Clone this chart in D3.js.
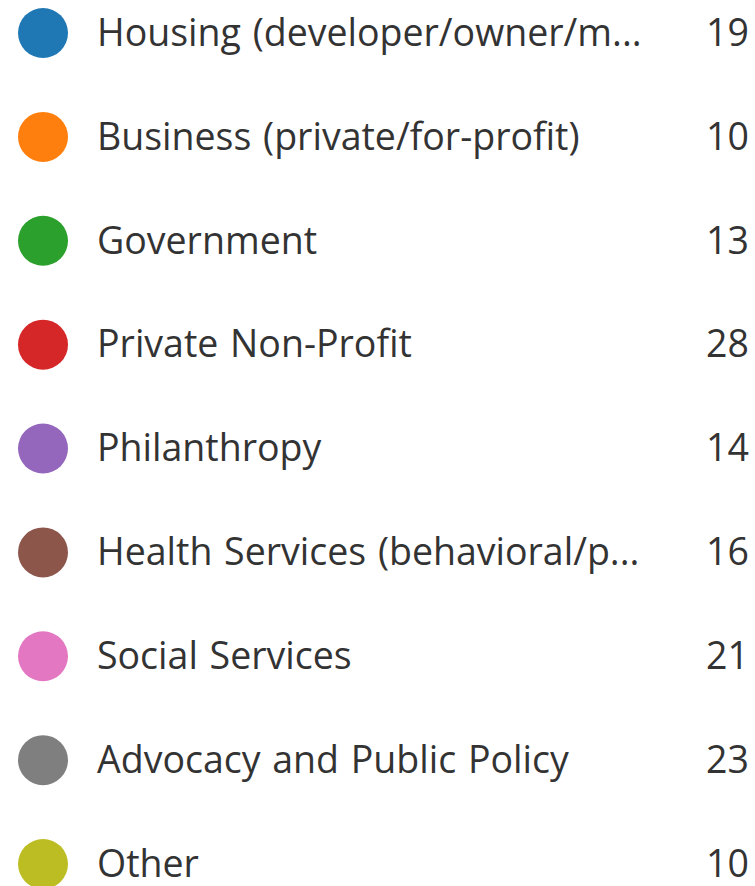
<!DOCTYPE html>
<meta charset="utf-8">
<head>
    <script src="https://d3js.org/d3.v7.min.js"></script>
    <style>
        body { margin: 0; background: #fff; }
        text { font-family: "Open Sans", "Noto Sans", sans-serif; fill: #333; }
    </style>
</head>
<body>
    <div class="viz"></div>
    <script>
        var width = 755,
            height = 886;

        var labels = ["Housing (developer/owner/m...", "Business (private/for-profit)", "Government",
            "Private Non-Profit", "Philanthropy", "Health Services (behavioral/p...",
            "Social Services", "Advocacy and Public Policy", "Other"];
        var counts = [19, 10, 13, 28, 14, 16, 21, 23, 10];
        var colours = d3.schemeCategory10.slice(0, 9);

        var y = d3.scalePoint()
            .domain(labels)
            .range([33, 864]);

        var svg = d3.select("div.viz").append("svg")
            .attr("width", width)
            .attr("height", height);

        var row = svg.selectAll("g.row")
            .data(labels)
            .enter().append("g")
            .attr("class", "row")
            .attr("transform", function(d) { return "translate(0," + y(d) + ")"; });

        row.append("circle")
            .attr("cx", 43)
            .attr("r", 25)
            .style("fill", function(d, i) { return colours[i]; });

        row.append("text")
            .attr("x", 97)
            .attr("dy", "0.34em")
            .style("font-size", "37.5px")
            .style("word-spacing", "2px")
            .text(function(d) { return d; });

        row.append("text")
            .attr("x", 749)
            .attr("dy", "0.34em")
            .attr("text-anchor", "end")
            .style("font-size", "37.5px")
            .text(function(d, i) { return counts[i]; });
    </script>
</body>
